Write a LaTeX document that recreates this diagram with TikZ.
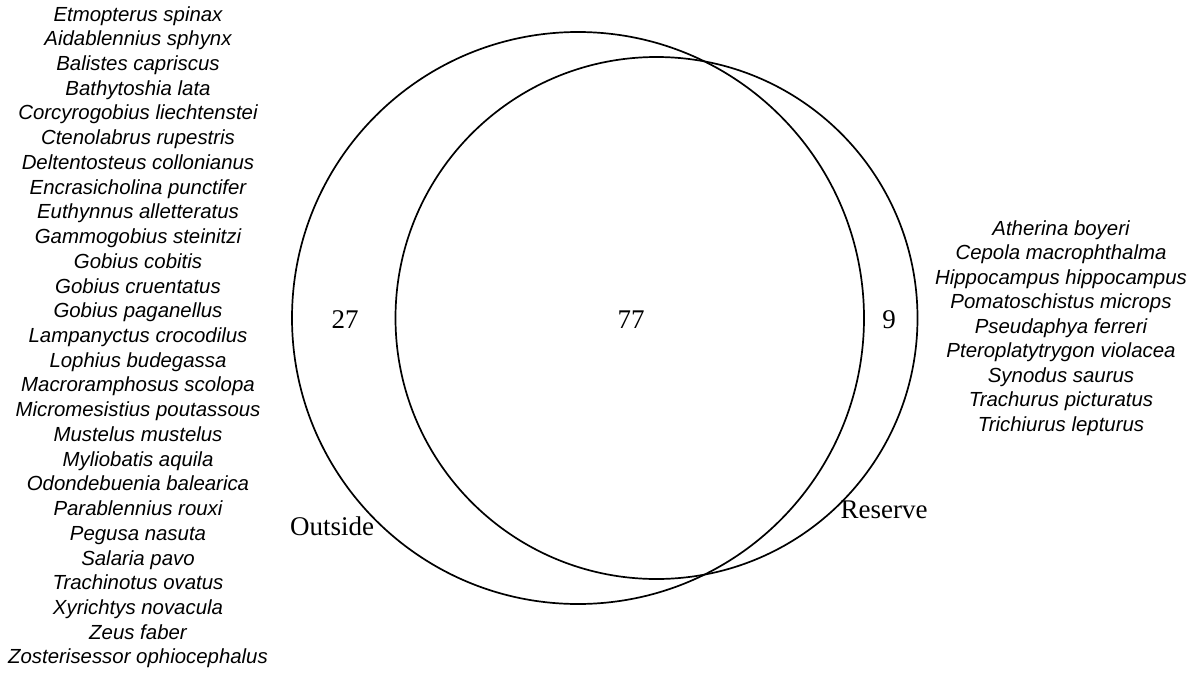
\documentclass[tikz,border=0pt]{standalone}
\usepackage{fontspec}
\setmainfont{Liberation Serif}
\newfontfamily\arialfont{Liberation Sans}
\begin{document}
\begin{tikzpicture}[x=1pt,y=-1pt,
  sp/.style={font=\arialfont\itshape\fontsize{20.4}{24}\selectfont, anchor=base, inner sep=0pt},
  lbl/.style={font=\fontsize{27}{30}\selectfont, anchor=base, inner sep=0pt},
  ring/.style={circle, draw=black, line width=1.7pt, inner sep=0pt, outer sep=0pt}]
\useasboundingbox (0,0) rectangle (1201,672);
\node[ring, minimum size=572pt] (outside) at (578,318) {};
\node[ring, minimum size=522pt] (reserve) at (656.5,318) {};
\node[lbl] (n27) at (345,328) {27};
\node[lbl] (n77) at (631,328) {77};
\node[lbl] (n9) at (889,328) {9};
\node[lbl] (lout) at (332,535) {Outside};
\node[lbl] (lres) at (884,518) {Reserve};
\foreach \t [count=\i] in {Etmopterus spinax, Aidablennius sphynx, Balistes capriscus, Bathytoshia lata, Corcyrogobius liechtenstei, Ctenolabrus rupestris, Deltentosteus collonianus, Encrasicholina punctifer, Euthynnus alletteratus, Gammogobius steinitzi, Gobius cobitis, Gobius cruentatus, Gobius paganellus, Lampanyctus crocodilus, Lophius budegassa, Macroramphosus scolopa, Micromesistius poutassous, Mustelus mustelus, Myliobatis aquila, Odondebuenia balearica, Parablennius rouxi, Pegusa nasuta, Salaria pavo, Trachinotus ovatus, Xyrichtys novacula, Zeus faber, Zosterisessor ophiocephalus}
  \node[sp] (L\i) at (138, {21+(\i-1)*24.73}) {\t};
\foreach \t [count=\i] in {Atherina boyeri, Cepola macrophthalma, Hippocampus hippocampus, Pomatoschistus microps, Pseudaphya ferreri, Pteroplatytrygon violacea, Synodus saurus, Trachurus picturatus, Trichiurus lepturus}
  \node[sp] (R\i) at (1061, {235+(\i-1)*24.5}) {\t};
\end{tikzpicture}
\end{document}
